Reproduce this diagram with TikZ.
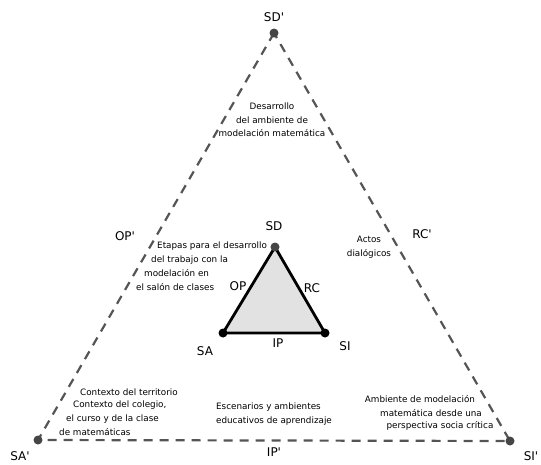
\documentclass[tikz,border=0pt]{standalone}
\usepackage{fontspec}
\setmainfont{DejaVu Sans}
\definecolor{dashgray}{RGB}{85,85,85}
\definecolor{dotgray}{RGB}{70,70,70}
\definecolor{trifill}{RGB}{226,226,226}
\newcommand{\pr}{\textquotesingle}
\tikzset{
  vlabel/.style={font=\fontsize{12}{14}\selectfont,inner sep=0pt},
  note/.style={font=\fontsize{8.8}{13.5}\selectfont,align=center,inner sep=0pt},
  noteline/.style={font=\fontsize{8.8}{11}\selectfont,inner sep=0pt},
}
\begin{document}
\begin{tikzpicture}[x=1pt,y=-1pt]
  \useasboundingbox (0,0) rectangle (541,464);
  % outer triangle
  \coordinate (SDo) at (274,33);
  \coordinate (SAo) at (38,440);
  \coordinate (SIo) at (510,441);
  \draw[dashgray,line width=2.2pt,dash pattern=on 9pt off 7pt]
        (SDo) -- (SAo) -- (SIo) -- cycle;
  \foreach \p in {SDo,SAo,SIo} {\fill[dotgray] (\p) circle (4.5pt);}
  % inner triangle
  \coordinate (SD) at (275,247);
  \coordinate (SA) at (223,333);
  \coordinate (SI) at (325,333);
  \filldraw[fill=trifill,draw=black,line width=2.8pt,line join=round]
        (SD) -- (SA) -- (SI) -- cycle;
  \fill[dotgray] (SD) circle (4.5pt);
  \fill[black] (SA) circle (4.5pt);
  \fill[black] (SI) circle (4.5pt);
  % vertex and side labels
  \node[vlabel] (lSDo) at (274,17) {SD\pr};
  \node[vlabel] (lSAo) at (20,456) {SA\pr};
  \node[vlabel] (lSIo) at (531,456) {SI\pr};
  \node[vlabel] (lIPo) at (274,452) {IP\pr};
  \node[vlabel] (lOPo) at (125,236) {OP\pr};
  \node[vlabel] (lRCo) at (422,234) {RC\pr};
  \node[vlabel] (lSD) at (274,226) {SD};
  \node[vlabel] (lSA) at (205,351) {SA};
  \node[vlabel] (lSI) at (345,346) {SI};
  \node[vlabel] (lIP) at (278,343) {IP};
  \node[vlabel] (lOP) at (238,286) {OP};
  \node[vlabel] (lRC) at (312,288) {RC};
  % texts
  \node[note] (desarrollo) at (272,120)
        {Desarrollo\\del ambiente de\\modelación matemática};
  \node[note] (actos) at (369,247) {Actos\\dialógicos};
  \node[note,align=left] (escenarios) at (274,414)
        {Escenarios y ambientes\\educativos de aprendizaje};
  \foreach \t/\x/\y [count=\i] in {Etapas para el desarrollo/157/246,
        del trabajo con la/151/260,modelación en/144/273,
        el salón de clases/136/287}
    {\node[noteline,anchor=west] (etapas\i) at (\x,\y) {\t};}
  \foreach \t/\x/\y [count=\i] in {Contexto del territorio/80/392,
        {Contexto del colegio,}/73/405,el curso y de la clase/66/419,
        de matemáticas/59/432}
    {\node[noteline,anchor=west] (contexto\i) at (\x,\y) {\t};}
  \foreach \t/\x/\y [count=\i] in {Ambiente de modelación/420/399,
        matemática desde una/431/413,perspectiva socia crítica/440/426}
    {\node[noteline] (ambiente\i) at (\x,\y) {\t};}
\end{tikzpicture}
\end{document}
